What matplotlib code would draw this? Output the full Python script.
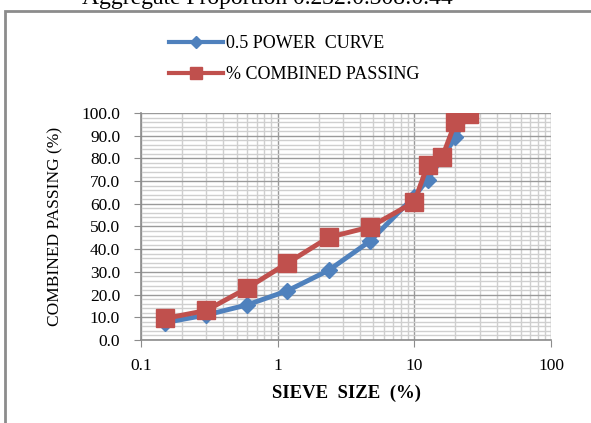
import matplotlib
matplotlib.use("Agg")
import matplotlib.pyplot as plt
from matplotlib.lines import Line2D
from matplotlib.patches import Rectangle
from matplotlib.ticker import FixedLocator, NullFormatter, MultipleLocator

plt.rcParams['font.family'] = ['Liberation Serif', 'DejaVu Serif']

# === Data ===
sieve_size = [0.15, 0.3, 0.6, 1.18, 2.36, 4.75, 10, 12.5, 16, 20, 25]
power_curve = [7.7, 11.0, 15.5, 21.7, 30.7, 43.6, 63.2, 70.7, 80.0, 89.4, 100.0]
combined_passing = [9.5, 13.0, 22.9, 33.9, 45.2, 49.8, 60.8, 77.0, 80.6, 96.0, 99.6]

x_ticks = [0.1, 1, 10, 100]
x_tick_labels = ["0.1", "1", "10", "100"]

blue = "#4F81BD"
red = "#C0504D"

fig = plt.figure(figsize=(5.91, 4.23), dpi=100)
ax = fig.add_axes([0.2386, 0.1962, 0.6937, 0.5367])

# === Series ===
ax.plot(sieve_size, power_curve, color=blue, lw=3.5, marker="D", ms=8.5,
        mec=blue, mfc=blue, zorder=3)
ax.plot(sieve_size, combined_passing, color=red, lw=3.5, marker="s", ms=12.5,
        mec=red, mfc=red, zorder=4)

# === Axes ===
ax.set_xscale("log")
ax.set_xlim(0.1, 100)
ax.set_ylim(0, 100)
ax.xaxis.set_major_locator(FixedLocator(x_ticks))
ax.set_xticklabels(x_tick_labels)
ax.xaxis.set_minor_locator(FixedLocator(
    [m * d for d in (0.1, 1, 10) for m in range(2, 10)]))
ax.xaxis.set_minor_formatter(NullFormatter())
ax.yaxis.set_major_locator(MultipleLocator(10))
ax.yaxis.set_minor_locator(MultipleLocator(2))
ax.yaxis.set_major_formatter(lambda v, p: f"{v:.1f}")

ax.grid(which="major", color="#9a9a9a", lw=1.0)
ax.grid(which="minor", color="#cfcfcf", lw=1.0)
ax.set_axisbelow(True)

for side in ("top", "right"):
    ax.spines[side].set_visible(False)
for side in ("left", "bottom"):
    ax.spines[side].set_color("#8c8c8c")
    ax.spines[side].set_linewidth(1.2)

ax.tick_params(which="major", direction="out", length=5, color="#8c8c8c",
               labelsize=12.5)
ax.tick_params(which="minor", length=0)
ax.tick_params(axis="x", pad=8)
ax.tick_params(axis="y", pad=10)

ax.set_xlabel("SIEVE  SIZE  (%)", fontsize=13.5, fontweight="bold", labelpad=8)
ax.set_ylabel("COMBINED PASSING (%)", fontsize=12.5, labelpad=13)

# === Legend ===
handles = [
    Line2D([], [], color=blue, lw=3, marker="D", ms=6),
    Line2D([], [], color=red, lw=3, marker="s", ms=9),
]
fig.legend(handles, ["0.5 POWER  CURVE", "% COMBINED PASSING"],
           loc="upper left", bbox_to_anchor=(0.258, 0.955), frameon=False,
           fontsize=13, handlelength=3.0, handletextpad=0.15, labelspacing=0.78)

# === Title and outer frame ===
fig.text(0.452, 0.991, "Aggregate Proportion 0.232:0.308:0.44",
         ha="center", va="baseline", fontsize=17)
fig.patches.append(Rectangle((5 / 591, -0.1), 1.2, 0.1 + 1 - 11 / 423,
                             transform=fig.transFigure, fill=False,
                             edgecolor="#8c8c8c", lw=2))

fig.savefig("out.png", dpi=100)
